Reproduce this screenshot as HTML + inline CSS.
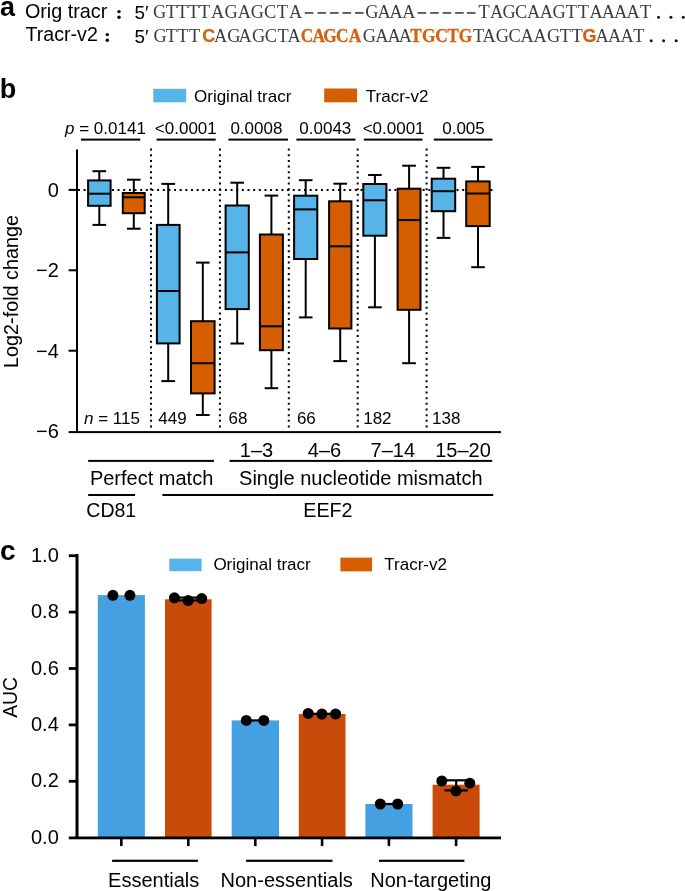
<!DOCTYPE html>
<html><head><meta charset="utf-8"><title>Figure</title>
<style>
html,body{margin:0;padding:0;background:#fff;}
body{width:685px;height:891px;overflow:hidden;}
svg{display:block;will-change:transform;}
text{font-family:"Liberation Sans",sans-serif;fill:#000;}
text.m{font-family:"Liberation Serif",serif;font-size:19.3px;fill:#3c3c3c;text-anchor:middle;}
text.sb{font-family:"Liberation Sans",sans-serif;font-weight:bold;font-size:18px;fill:#D46010;stroke:#D46010;stroke-width:0.25px;text-anchor:middle;}
text.mb{font-family:"Liberation Serif",serif;font-weight:bold;font-size:19.3px;fill:#D46010;stroke:#D46010;stroke-width:0.3px;text-anchor:middle;}
</style></head><body>
<svg width="685" height="891" viewBox="0 0 685 891">
<text x="0" y="15.6" font-weight="bold" font-size="27">a</text>
<text x="24.9" y="18.4" font-size="19.8">Orig tracr</text>
<text x="25.6" y="41.4" font-size="19.6">Tracr-v2</text>
<circle cx="119.0" cy="11.6" r="1.7" fill="#000"/>
<circle cx="119.0" cy="17.3" r="1.7" fill="#000"/>
<circle cx="107.3" cy="34.6" r="1.7" fill="#000"/>
<circle cx="107.3" cy="40.3" r="1.7" fill="#000"/>
<text x="134.5" y="18.8" font-size="18.8">5′</text>
<text x="134.5" y="42.6" font-size="18.8">5′</text>
<text transform="translate(159.7,18.2) scale(0.95,1)" class="m">G</text>
<text transform="translate(171.3,18.2) scale(0.95,1)" class="m">T</text>
<text transform="translate(182.4,18.2) scale(0.95,1)" class="m">T</text>
<text transform="translate(193.5,18.2) scale(0.95,1)" class="m">T</text>
<text transform="translate(204.6,18.2) scale(0.95,1)" class="m">T</text>
<text transform="translate(217.7,18.2) scale(0.95,1)" class="m">A</text>
<text transform="translate(231.2,18.2) scale(0.95,1)" class="m">G</text>
<text transform="translate(244.3,18.2) scale(0.95,1)" class="m">A</text>
<text transform="translate(257.4,18.2) scale(0.95,1)" class="m">G</text>
<text transform="translate(270.2,18.2) scale(0.95,1)" class="m">C</text>
<text transform="translate(282.4,18.2) scale(0.95,1)" class="m">T</text>
<text transform="translate(295.6,18.2) scale(0.95,1)" class="m">A</text>
<rect x="304.8" y="12.1" width="8.6" height="1.7" fill="#4a4a4a"/>
<rect x="317.5" y="12.1" width="8.6" height="1.7" fill="#4a4a4a"/>
<rect x="330.0" y="12.1" width="8.6" height="1.7" fill="#4a4a4a"/>
<rect x="342.5" y="12.1" width="8.6" height="1.7" fill="#4a4a4a"/>
<rect x="355.0" y="12.1" width="8.6" height="1.7" fill="#4a4a4a"/>
<text transform="translate(371.9,18.2) scale(0.95,1)" class="m">G</text>
<text transform="translate(384.1,18.2) scale(0.95,1)" class="m">A</text>
<text transform="translate(396.2,18.2) scale(0.95,1)" class="m">A</text>
<text transform="translate(408.9,18.2) scale(0.95,1)" class="m">A</text>
<rect x="417.6" y="12.1" width="8.6" height="1.7" fill="#4a4a4a"/>
<rect x="430.1" y="12.1" width="8.6" height="1.7" fill="#4a4a4a"/>
<rect x="442.6" y="12.1" width="8.6" height="1.7" fill="#4a4a4a"/>
<rect x="455.1" y="12.1" width="8.6" height="1.7" fill="#4a4a4a"/>
<rect x="466.9" y="12.1" width="8.6" height="1.7" fill="#4a4a4a"/>
<text transform="translate(484.1,18.2) scale(0.95,1)" class="m">T</text>
<text transform="translate(496.6,18.2) scale(0.95,1)" class="m">A</text>
<text transform="translate(509.2,18.2) scale(0.95,1)" class="m">G</text>
<text transform="translate(521.2,18.2) scale(0.95,1)" class="m">C</text>
<text transform="translate(533.7,18.2) scale(0.95,1)" class="m">A</text>
<text transform="translate(546.3,18.2) scale(0.95,1)" class="m">A</text>
<text transform="translate(559.0,18.2) scale(0.95,1)" class="m">G</text>
<text transform="translate(571.4,18.2) scale(0.95,1)" class="m">T</text>
<text transform="translate(583.4,18.2) scale(0.95,1)" class="m">T</text>
<text transform="translate(596.0,18.2) scale(0.95,1)" class="m">A</text>
<text transform="translate(608.3,18.2) scale(0.95,1)" class="m">A</text>
<text transform="translate(620.6,18.2) scale(0.95,1)" class="m">A</text>
<text transform="translate(633.0,18.2) scale(0.95,1)" class="m">A</text>
<text transform="translate(645.6,18.2) scale(0.95,1)" class="m">T</text>
<text transform="translate(160.2,41.6) scale(0.95,1)" class="m">G</text>
<text transform="translate(171.4,41.6) scale(0.95,1)" class="m">T</text>
<text transform="translate(182.8,41.6) scale(0.95,1)" class="m">T</text>
<text transform="translate(194.7,41.6) scale(0.95,1)" class="m">T</text>
<text x="208.7" y="42.4" class="sb">C</text>
<text transform="translate(220.6,41.6) scale(0.95,1)" class="m">A</text>
<text transform="translate(233.8,41.6) scale(0.95,1)" class="m">G</text>
<text transform="translate(245.2,41.6) scale(0.95,1)" class="m">A</text>
<text transform="translate(258.6,41.6) scale(0.95,1)" class="m">G</text>
<text transform="translate(270.8,41.6) scale(0.95,1)" class="m">C</text>
<text transform="translate(283.0,41.6) scale(0.95,1)" class="m">T</text>
<text transform="translate(294.1,41.6) scale(0.95,1)" class="m">A</text>
<text transform="translate(307.0,41.6) scale(0.9,1)" class="mb">C</text>
<text transform="translate(318.8,41.6) scale(0.9,1)" class="mb">A</text>
<text transform="translate(329.9,41.6) scale(0.9,1)" class="mb">G</text>
<text transform="translate(342.3,41.6) scale(0.9,1)" class="mb">C</text>
<text transform="translate(355.1,41.6) scale(0.9,1)" class="mb">A</text>
<text transform="translate(369.3,41.6) scale(0.95,1)" class="m">G</text>
<text transform="translate(381.8,41.6) scale(0.95,1)" class="m">A</text>
<text transform="translate(394.2,41.6) scale(0.95,1)" class="m">A</text>
<text transform="translate(405.3,41.6) scale(0.95,1)" class="m">A</text>
<text transform="translate(416.0,41.6) scale(0.9,1)" class="mb">T</text>
<text transform="translate(428.8,41.6) scale(0.9,1)" class="mb">G</text>
<text transform="translate(441.6,41.6) scale(0.9,1)" class="mb">C</text>
<text transform="translate(453.1,41.6) scale(0.9,1)" class="mb">T</text>
<text transform="translate(465.6,41.6) scale(0.9,1)" class="mb">G</text>
<text transform="translate(478.5,41.6) scale(0.95,1)" class="m">T</text>
<text transform="translate(489.2,41.6) scale(0.95,1)" class="m">A</text>
<text transform="translate(502.3,41.6) scale(0.95,1)" class="m">G</text>
<text transform="translate(514.5,41.6) scale(0.95,1)" class="m">C</text>
<text transform="translate(527.0,41.6) scale(0.95,1)" class="m">A</text>
<text transform="translate(540.1,41.6) scale(0.95,1)" class="m">A</text>
<text transform="translate(553.6,41.6) scale(0.95,1)" class="m">G</text>
<text transform="translate(565.3,41.6) scale(0.95,1)" class="m">T</text>
<text transform="translate(577.0,41.6) scale(0.95,1)" class="m">T</text>
<text x="589.6" y="42.4" class="sb">G</text>
<text transform="translate(602.0,41.6) scale(0.95,1)" class="m">A</text>
<text transform="translate(614.5,41.6) scale(0.95,1)" class="m">A</text>
<text transform="translate(627.0,41.6) scale(0.95,1)" class="m">A</text>
<text transform="translate(638.8,41.6) scale(0.95,1)" class="m">T</text>
<circle cx="658.5" cy="17.2" r="1.5" fill="#111"/>
<circle cx="670.9" cy="17.2" r="1.5" fill="#111"/>
<circle cx="683.3" cy="17.2" r="1.5" fill="#111"/>
<circle cx="651.2" cy="40.7" r="1.5" fill="#111"/>
<circle cx="663.6" cy="40.7" r="1.5" fill="#111"/>
<circle cx="676.2" cy="40.7" r="1.5" fill="#111"/>
<text x="-0.2" y="97.5" font-weight="bold" font-size="27">b</text>
<rect x="153.3" y="88.8" width="32.9" height="13.5" fill="#56B4E9"/>
<text x="194" y="101.9" font-size="17">Original tracr</text>
<rect x="324.2" y="88.5" width="32.9" height="13.8" fill="#D55E00"/>
<text x="365.8" y="101.9" font-size="17">Tracr-v2</text>
<text x="65" y="133.5" font-size="17"><tspan font-style="italic">p</tspan> = 0.0141</text>
<text x="185.8" y="133.5" font-size="17" text-anchor="middle">&lt;0.0001</text>
<text x="256.4" y="133.5" font-size="17" text-anchor="middle">0.0008</text>
<text x="325.3" y="133.5" font-size="17" text-anchor="middle">0.0043</text>
<text x="393.6" y="133.5" font-size="17" text-anchor="middle">&lt;0.0001</text>
<text x="463.5" y="133.5" font-size="17" text-anchor="middle">0.005</text>
<rect x="81" y="138.6" width="59.3" height="2" fill="#000"/>
<rect x="156.6" y="138.6" width="59.1" height="2" fill="#000"/>
<rect x="228.4" y="138.6" width="59.6" height="2" fill="#000"/>
<rect x="296.4" y="138.6" width="59.1" height="2" fill="#000"/>
<rect x="363.8" y="138.6" width="58.7" height="2" fill="#000"/>
<rect x="433.8" y="138.6" width="58.7" height="2" fill="#000"/>
<rect x="76" y="149.5" width="2" height="283" fill="#000"/>
<rect x="68.6" y="431.1" width="432.4" height="2" fill="#000"/>
<rect x="68.6" y="188.9" width="8" height="2" fill="#000"/>
<text x="58.8" y="197.0" font-size="20" text-anchor="end">0</text>
<rect x="68.6" y="269.3" width="8" height="2" fill="#000"/>
<text x="58.8" y="277.4" font-size="20" text-anchor="end">−2</text>
<rect x="68.6" y="349.7" width="8" height="2" fill="#000"/>
<text x="58.8" y="357.8" font-size="20" text-anchor="end">−4</text>
<text x="58.8" y="438.2" font-size="20" text-anchor="end">−6</text>
<text transform="translate(18.2,291.5) rotate(-90)" font-size="19.8" text-anchor="middle">Log2-fold change</text>
<line x1="78" y1="190" x2="495.5" y2="190" stroke="#000" stroke-width="2" stroke-dasharray="2 3.65"/>
<line x1="151" y1="148.6" x2="151" y2="428" stroke="#000" stroke-width="2" stroke-dasharray="2 3.65"/>
<line x1="219.9" y1="148.6" x2="219.9" y2="428" stroke="#000" stroke-width="2" stroke-dasharray="2 3.65"/>
<line x1="288.8" y1="148.6" x2="288.8" y2="428" stroke="#000" stroke-width="2" stroke-dasharray="2 3.65"/>
<line x1="357.7" y1="148.6" x2="357.7" y2="428" stroke="#000" stroke-width="2" stroke-dasharray="2 3.65"/>
<line x1="426.6" y1="148.6" x2="426.6" y2="428" stroke="#000" stroke-width="2" stroke-dasharray="2 3.65"/>
<line x1="99.3" y1="171.2" x2="99.3" y2="206.8" stroke="#000" stroke-width="2"/>
<line x1="99.3" y1="179.4" x2="99.3" y2="224.9" stroke="#000" stroke-width="2"/>
<line x1="92.5" y1="171.2" x2="106.1" y2="171.2" stroke="#000" stroke-width="2"/>
<line x1="92.5" y1="224.9" x2="106.1" y2="224.9" stroke="#000" stroke-width="2"/>
<rect x="88.1" y="180.4" width="22.5" height="25.4" fill="#56B4E9" stroke="#000" stroke-width="2"/>
<line x1="88.1" y1="193.7" x2="110.6" y2="193.7" stroke="#000" stroke-width="2"/>
<line x1="133.8" y1="179.7" x2="133.8" y2="214.2" stroke="#000" stroke-width="2"/>
<line x1="133.8" y1="192" x2="133.8" y2="228.7" stroke="#000" stroke-width="2"/>
<line x1="127.0" y1="179.7" x2="140.6" y2="179.7" stroke="#000" stroke-width="2"/>
<line x1="127.0" y1="228.7" x2="140.6" y2="228.7" stroke="#000" stroke-width="2"/>
<rect x="122.8" y="193.0" width="21.9" height="20.2" fill="#D55E00" stroke="#000" stroke-width="2"/>
<line x1="122.8" y1="197.3" x2="144.7" y2="197.3" stroke="#000" stroke-width="2"/>
<line x1="168.2" y1="183.9" x2="168.2" y2="344.4" stroke="#000" stroke-width="2"/>
<line x1="168.2" y1="223.9" x2="168.2" y2="381.1" stroke="#000" stroke-width="2"/>
<line x1="161.4" y1="183.9" x2="175.1" y2="183.9" stroke="#000" stroke-width="2"/>
<line x1="161.4" y1="381.1" x2="175.1" y2="381.1" stroke="#000" stroke-width="2"/>
<rect x="156.9" y="224.9" width="22.7" height="118.5" fill="#56B4E9" stroke="#000" stroke-width="2"/>
<line x1="156.9" y1="291" x2="179.6" y2="291" stroke="#000" stroke-width="2"/>
<line x1="202.8" y1="262.6" x2="202.8" y2="394.4" stroke="#000" stroke-width="2"/>
<line x1="202.8" y1="320.20000000000005" x2="202.8" y2="415" stroke="#000" stroke-width="2"/>
<line x1="196.0" y1="262.6" x2="209.6" y2="262.6" stroke="#000" stroke-width="2"/>
<line x1="196.0" y1="415" x2="209.6" y2="415" stroke="#000" stroke-width="2"/>
<rect x="191.0" y="321.2" width="23.6" height="72.2" fill="#D55E00" stroke="#000" stroke-width="2"/>
<line x1="191.0" y1="363.2" x2="214.6" y2="363.2" stroke="#000" stroke-width="2"/>
<line x1="237.2" y1="182.7" x2="237.2" y2="310.09999999999997" stroke="#000" stroke-width="2"/>
<line x1="237.2" y1="204.5" x2="237.2" y2="343.5" stroke="#000" stroke-width="2"/>
<line x1="230.4" y1="182.7" x2="244.0" y2="182.7" stroke="#000" stroke-width="2"/>
<line x1="230.4" y1="343.5" x2="244.0" y2="343.5" stroke="#000" stroke-width="2"/>
<rect x="225.6" y="205.5" width="23.2" height="103.6" fill="#56B4E9" stroke="#000" stroke-width="2"/>
<line x1="225.6" y1="252.4" x2="248.8" y2="252.4" stroke="#000" stroke-width="2"/>
<line x1="271.4" y1="195.6" x2="271.4" y2="351.2" stroke="#000" stroke-width="2"/>
<line x1="271.4" y1="233.5" x2="271.4" y2="388.2" stroke="#000" stroke-width="2"/>
<line x1="264.6" y1="195.6" x2="278.2" y2="195.6" stroke="#000" stroke-width="2"/>
<line x1="264.6" y1="388.2" x2="278.2" y2="388.2" stroke="#000" stroke-width="2"/>
<rect x="259.9" y="234.5" width="23.0" height="115.7" fill="#D55E00" stroke="#000" stroke-width="2"/>
<line x1="259.9" y1="326.3" x2="282.9" y2="326.3" stroke="#000" stroke-width="2"/>
<line x1="305.7" y1="180.2" x2="305.7" y2="260.0" stroke="#000" stroke-width="2"/>
<line x1="305.7" y1="194.7" x2="305.7" y2="317.4" stroke="#000" stroke-width="2"/>
<line x1="298.9" y1="180.2" x2="312.5" y2="180.2" stroke="#000" stroke-width="2"/>
<line x1="298.9" y1="317.4" x2="312.5" y2="317.4" stroke="#000" stroke-width="2"/>
<rect x="294.1" y="195.7" width="23.2" height="63.3" fill="#56B4E9" stroke="#000" stroke-width="2"/>
<line x1="294.1" y1="209.4" x2="317.3" y2="209.4" stroke="#000" stroke-width="2"/>
<line x1="340.2" y1="183.7" x2="340.2" y2="329.5" stroke="#000" stroke-width="2"/>
<line x1="340.2" y1="200.29999999999998" x2="340.2" y2="361.1" stroke="#000" stroke-width="2"/>
<line x1="333.4" y1="183.7" x2="347.1" y2="183.7" stroke="#000" stroke-width="2"/>
<line x1="333.4" y1="361.1" x2="347.1" y2="361.1" stroke="#000" stroke-width="2"/>
<rect x="329.1" y="201.3" width="22.3" height="127.2" fill="#D55E00" stroke="#000" stroke-width="2"/>
<line x1="329.1" y1="246.3" x2="351.4" y2="246.3" stroke="#000" stroke-width="2"/>
<line x1="374.9" y1="175" x2="374.9" y2="236.70000000000002" stroke="#000" stroke-width="2"/>
<line x1="374.9" y1="183.0" x2="374.9" y2="307.3" stroke="#000" stroke-width="2"/>
<line x1="368.1" y1="175" x2="381.7" y2="175" stroke="#000" stroke-width="2"/>
<line x1="368.1" y1="307.3" x2="381.7" y2="307.3" stroke="#000" stroke-width="2"/>
<rect x="363.3" y="184.0" width="23.1" height="51.7" fill="#56B4E9" stroke="#000" stroke-width="2"/>
<line x1="363.3" y1="200.3" x2="386.4" y2="200.3" stroke="#000" stroke-width="2"/>
<line x1="409.1" y1="165.7" x2="409.1" y2="310.79999999999995" stroke="#000" stroke-width="2"/>
<line x1="409.1" y1="187.7" x2="409.1" y2="363.2" stroke="#000" stroke-width="2"/>
<line x1="402.2" y1="165.7" x2="415.9" y2="165.7" stroke="#000" stroke-width="2"/>
<line x1="402.2" y1="363.2" x2="415.9" y2="363.2" stroke="#000" stroke-width="2"/>
<rect x="397.6" y="188.7" width="22.9" height="121.1" fill="#D55E00" stroke="#000" stroke-width="2"/>
<line x1="397.6" y1="220.1" x2="420.5" y2="220.1" stroke="#000" stroke-width="2"/>
<line x1="443.5" y1="167.8" x2="443.5" y2="212.20000000000002" stroke="#000" stroke-width="2"/>
<line x1="443.5" y1="177.7" x2="443.5" y2="237.9" stroke="#000" stroke-width="2"/>
<line x1="436.7" y1="167.8" x2="450.3" y2="167.8" stroke="#000" stroke-width="2"/>
<line x1="436.7" y1="237.9" x2="450.3" y2="237.9" stroke="#000" stroke-width="2"/>
<rect x="431.7" y="178.7" width="23.5" height="32.5" fill="#56B4E9" stroke="#000" stroke-width="2"/>
<line x1="431.7" y1="191.2" x2="455.2" y2="191.2" stroke="#000" stroke-width="2"/>
<line x1="478.0" y1="166.9" x2="478.0" y2="227.1" stroke="#000" stroke-width="2"/>
<line x1="478.0" y1="180.4" x2="478.0" y2="267.2" stroke="#000" stroke-width="2"/>
<line x1="471.2" y1="166.9" x2="484.8" y2="166.9" stroke="#000" stroke-width="2"/>
<line x1="471.2" y1="267.2" x2="484.8" y2="267.2" stroke="#000" stroke-width="2"/>
<rect x="466.2" y="181.4" width="23.5" height="44.7" fill="#D55E00" stroke="#000" stroke-width="2"/>
<line x1="466.2" y1="193.5" x2="489.7" y2="193.5" stroke="#000" stroke-width="2"/>
<text x="84" y="423.6" font-size="17"><tspan font-style="italic">n</tspan> = 115</text>
<text x="158.3" y="423.6" font-size="17">449</text>
<text x="228.6" y="423.6" font-size="17">68</text>
<text x="296.9" y="423.6" font-size="17">66</text>
<text x="363.2" y="423.6" font-size="17">182</text>
<text x="432" y="423.6" font-size="17">138</text>
<text x="256.5" y="456.7" font-size="20" text-anchor="middle">1–3</text>
<text x="324.5" y="456.7" font-size="20" text-anchor="middle">4–6</text>
<text x="392.8" y="456.7" font-size="20" text-anchor="middle">7–14</text>
<text x="463" y="456.7" font-size="20" text-anchor="middle">15–20</text>
<rect x="88.2" y="459.9" width="125.8" height="2" fill="#000"/>
<rect x="229.6" y="459.9" width="262.6" height="2" fill="#000"/>
<rect x="88.2" y="494.0" width="46.9" height="2" fill="#000"/>
<rect x="162.4" y="494.0" width="330.8" height="2" fill="#000"/>
<text x="151.6" y="484.7" font-size="20" text-anchor="middle">Perfect match</text>
<text x="360.8" y="484.7" font-size="20" text-anchor="middle">Single nucleotide mismatch</text>
<text x="111.3" y="517.2" font-size="19.5" text-anchor="middle">CD81</text>
<text x="327.9" y="517.2" font-size="19.7" text-anchor="middle">EEF2</text>
<text x="0" y="560" font-weight="bold" font-size="28">c</text>
<rect x="169.3" y="558.6" width="32.3" height="12.6" fill="#56B4E9"/>
<text x="213.4" y="569.9" font-size="17">Original tracr</text>
<rect x="340.4" y="557.6" width="31.7" height="13.8" fill="#D55E00"/>
<text x="384.3" y="569.9" font-size="17">Tracr-v2</text>
<rect x="97.8" y="595.1" width="47.1" height="242.3" fill="#45A0E2"/>
<rect x="165.0" y="599.3" width="46.6" height="238.1" fill="#C84B0A"/>
<rect x="231.7" y="720.4" width="47.3" height="117.0" fill="#45A0E2"/>
<rect x="298.8" y="714" width="46.7" height="123.4" fill="#C84B0A"/>
<rect x="365.4" y="804" width="47.1" height="33.4" fill="#45A0E2"/>
<rect x="432.6" y="784.7" width="47.0" height="52.7" fill="#C84B0A"/>
<line x1="176" y1="597.6" x2="200" y2="597.6" stroke="#000" stroke-width="2.2"/>
<line x1="176" y1="600.4" x2="200" y2="600.4" stroke="#000" stroke-width="2.2"/>
<line x1="188.3" y1="597.6" x2="188.3" y2="600.4" stroke="#000" stroke-width="2.2"/>
<line x1="246.3" y1="720.4" x2="263.8" y2="720.4" stroke="#000" stroke-width="2.2"/>
<line x1="308.2" y1="713.8" x2="335.6" y2="713.8" stroke="#000" stroke-width="2.2"/>
<line x1="380.3" y1="804" x2="397.7" y2="804" stroke="#000" stroke-width="2.2"/>
<line x1="444" y1="780.3" x2="470" y2="780.3" stroke="#000" stroke-width="2.2"/>
<line x1="444.5" y1="790.4" x2="468" y2="790.4" stroke="#000" stroke-width="2.2"/>
<line x1="456.2" y1="780.3" x2="456.2" y2="790.4" stroke="#000" stroke-width="2.2"/>
<circle cx="112.9" cy="595.3" r="5.5" fill="#000"/>
<circle cx="129.9" cy="595.3" r="5.5" fill="#000"/>
<circle cx="174.4" cy="597.8" r="5.5" fill="#000"/>
<circle cx="188.2" cy="600.6" r="5.5" fill="#000"/>
<circle cx="201.7" cy="598.6" r="5.5" fill="#000"/>
<circle cx="246.3" cy="720.4" r="5.5" fill="#000"/>
<circle cx="263.8" cy="720.4" r="5.5" fill="#000"/>
<circle cx="308.2" cy="713.4" r="5.5" fill="#000"/>
<circle cx="321.9" cy="714" r="5.5" fill="#000"/>
<circle cx="335.6" cy="714" r="5.5" fill="#000"/>
<circle cx="380.3" cy="804" r="5.5" fill="#000"/>
<circle cx="397.7" cy="804" r="5.5" fill="#000"/>
<circle cx="441.8" cy="781" r="5.5" fill="#000"/>
<circle cx="456" cy="790.9" r="5.5" fill="#000"/>
<circle cx="469.8" cy="783.2" r="5.5" fill="#000"/>
<rect x="75.5" y="554" width="3" height="285" fill="#000"/>
<rect x="68.8" y="836.5" width="432.2" height="2.8" fill="#000"/>
<text x="58.8" y="843.8" font-size="20" text-anchor="end">0.0</text>
<rect x="68.8" y="779.9" width="8" height="2.8" fill="#000"/>
<text x="58.8" y="787.4" font-size="20" text-anchor="end">0.2</text>
<rect x="68.8" y="723.5" width="8" height="2.8" fill="#000"/>
<text x="58.8" y="731.0" font-size="20" text-anchor="end">0.4</text>
<rect x="68.8" y="667.1" width="8" height="2.8" fill="#000"/>
<text x="58.8" y="674.6" font-size="20" text-anchor="end">0.6</text>
<rect x="68.8" y="610.7" width="8" height="2.8" fill="#000"/>
<text x="58.8" y="618.2" font-size="20" text-anchor="end">0.8</text>
<rect x="68.8" y="554.3" width="8" height="2.8" fill="#000"/>
<text x="58.8" y="561.8" font-size="20" text-anchor="end">1.0</text>
<rect x="120.0" y="837.5" width="2.6" height="8.6" fill="#000"/>
<rect x="187.0" y="837.5" width="2.6" height="8.6" fill="#000"/>
<rect x="254.0" y="837.5" width="2.6" height="8.6" fill="#000"/>
<rect x="320.8" y="837.5" width="2.6" height="8.6" fill="#000"/>
<rect x="387.6" y="837.5" width="2.6" height="8.6" fill="#000"/>
<rect x="454.8" y="837.5" width="2.6" height="8.6" fill="#000"/>
<rect x="112.1" y="859.7" width="85.8" height="2.2" fill="#000"/>
<rect x="246.1" y="859.7" width="86.4" height="2.2" fill="#000"/>
<rect x="379" y="859.7" width="85.4" height="2.2" fill="#000"/>
<text x="153.7" y="886.8" font-size="20" text-anchor="middle">Essentials</text>
<text x="286.7" y="886.8" font-size="20" text-anchor="middle">Non-essentials</text>
<text x="430.8" y="886.8" font-size="20" text-anchor="middle">Non-targeting</text>
<text transform="translate(17.3,697.5) rotate(-90)" font-size="19.3" text-anchor="middle">AUC</text>
</svg>
</body></html>
